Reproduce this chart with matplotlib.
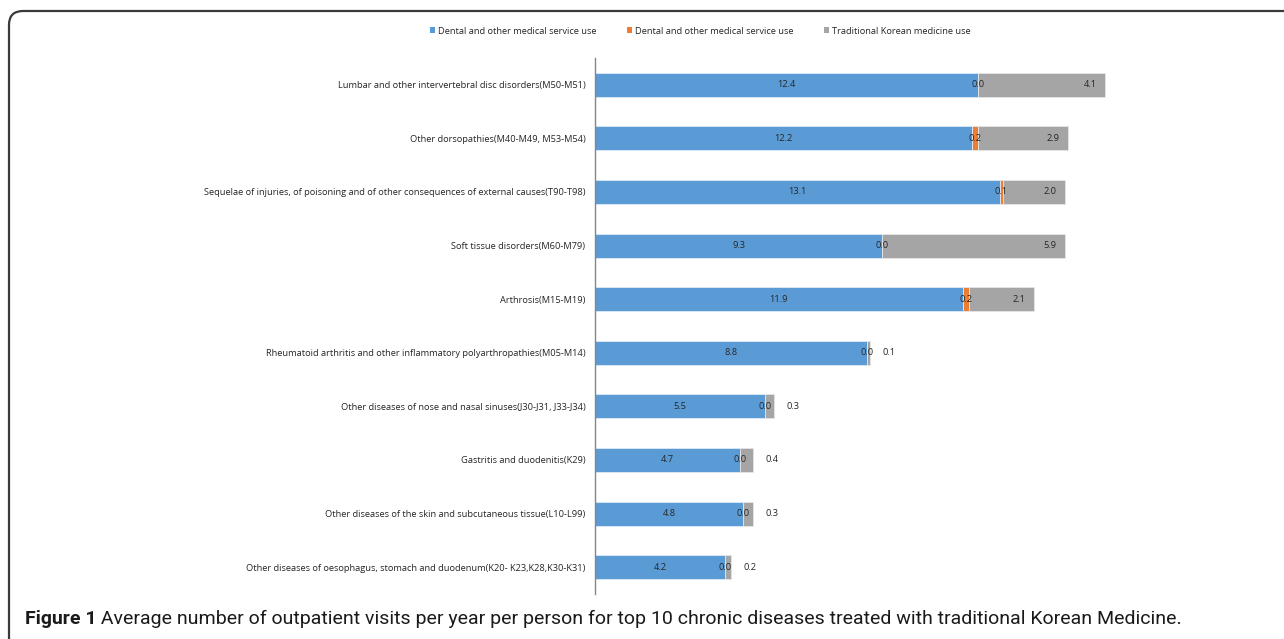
import matplotlib
matplotlib.use("Agg")
import matplotlib.pyplot as plt
from matplotlib.patches import Patch
from matplotlib.path import Path
from matplotlib.patches import PathPatch
import numpy as np

categories = [
    "Lumbar and other intervertebral disc disorders(M50-M51)",
    "Other dorsopathies(M40-M49, M53-M54)",
    "Sequelae of injuries, of poisoning and of other consequences of external causes(T90-T98)",
    "Soft tissue disorders(M60-M79)",
    "Arthrosis(M15-M19)",
    "Rheumatoid arthritis and other inflammatory polyarthropathies(M05-M14)",
    "Other diseases of nose and nasal sinuses(J30-J31, J33-J34)",
    "Gastritis and duodenitis(K29)",
    "Other diseases of the skin and subcutaneous tissue(L10-L99)",
    "Other diseases of oesophagus, stomach and duodenum(K20- K23,K28,K30-K31)",
]
dental_medical = [12.4, 12.2, 13.1, 9.3, 11.9, 8.8, 5.5, 4.7, 4.8, 4.2]
dental_medical_2 = [0.0, 0.2, 0.1, 0.0, 0.2, 0.0, 0.0, 0.0, 0.0, 0.0]
korean_medicine = [4.1, 2.9, 2.0, 5.9, 2.1, 0.1, 0.3, 0.4, 0.3, 0.2]
series_names = ["Dental and other medical service use",
                "Dental and other medical service use",
                "Traditional Korean medicine use"]
caption_bold = "Figure 1"
caption_text = " Average number of outpatient visits per year per person for top 10 chronic diseases treated with traditional Korean Medicine."

colors = ["#5B9BD5", "#ED7D31", "#A5A5A5"]
W, H = 1284, 639
fig = plt.figure(figsize=(W / 100, H / 100), dpi=100)

lab_font = ["Open Sans", "DejaVu Sans"]
lab_size = 6.7
txt_color = "#262626"

ax_left, ax_top, ax_bottom = 595, 58, 594
xmax = 21.0
px_per_unit = 30.9
ax = fig.add_axes([ax_left / W, (H - ax_bottom) / H, xmax * px_per_unit / W, (ax_bottom - ax_top) / H])

y = np.arange(len(categories))
d1 = np.array(dental_medical)
d2 = np.array(dental_medical_2)
k = np.array(korean_medicine)
h = 0.45
ax.barh(y, d1, height=h, color=colors[0], edgecolor="#dfe9f5", linewidth=0.6, label=series_names[0])
ax.barh(y, d2, left=d1, height=h, color=colors[1], edgecolor="#dfe9f5", linewidth=0.6, label=series_names[1])
ax.barh(y, k, left=d1 + d2, height=h, color=colors[2], edgecolor="#e6e6e6", linewidth=0.6, label=series_names[2])

ax.set_xlim(0, xmax)
ax.set_ylim(len(categories) - 0.5, -0.5)
for s in ["top", "right", "bottom"]:
    ax.spines[s].set_visible(False)
ax.spines["left"].set_color("#868686")
ax.spines["left"].set_linewidth(1.0)
ax.set_xticks([])
ax.set_yticks(y)
ax.set_yticklabels(categories, fontfamily=lab_font, fontsize=lab_size, color=txt_color)
ax.tick_params(axis="y", length=0, pad=7)

# data labels
for i in range(len(categories)):
    ax.text(d1[i] / 2, y[i], f"{d1[i]:.1f}", ha="center", va="center",
            fontfamily=lab_font, fontsize=lab_size, color=txt_color)
    ax.text(d1[i] + d2[i] / 2, y[i], f"{d2[i]:.1f}", ha="center", va="center",
            fontfamily=lab_font, fontsize=lab_size, color=txt_color)
    end = d1[i] + d2[i] + k[i]
    if k[i] >= 1:
        ax.annotate(f"{k[i]:.1f}", (end, y[i]), xytext=(-6, 0), textcoords="offset points",
                    ha="right", va="center", fontfamily=lab_font, fontsize=lab_size, color=txt_color)
    else:
        ax.annotate(f"{k[i]:.1f}", (end, y[i]), xytext=(9, 0), textcoords="offset points",
                    ha="left", va="center", fontfamily=lab_font, fontsize=lab_size, color=txt_color)

handles = [Patch(facecolor=c, edgecolor="none") for c in colors]
leg = fig.legend(handles, series_names, loc="center", bbox_to_anchor=(700 / W, 1 - 31 / H),
                 ncol=3, frameon=False, handlelength=0.55, handleheight=0.55, handletextpad=0.3,
                 columnspacing=3.3, prop={"family": lab_font, "size": lab_size})
for t in leg.get_texts():
    t.set_color(txt_color)

# frame: top line and left line with rounded corner
r = 14
x0, y0 = 9, 11
verts = [(x0, H + 5), (x0, y0 + r), (x0, y0), (x0 + r, y0), (W + 5, y0)]
verts = [(vx / W, 1 - vy / H) for vx, vy in verts]
codes = [Path.MOVETO, Path.LINETO, Path.CURVE3, Path.CURVE3, Path.LINETO]
fig.patches.append(PathPatch(Path(verts, codes), transform=fig.transFigure, fill=False,
                             edgecolor="#3a3a3a", linewidth=1.6))

# caption: fit to the reference's width
cap_font = ["Roboto", "DejaVu Sans"]
cap_y = 1 - 619 / H
cap_left, cap_right = 25, 1183
size = 14.0
renderer = fig.canvas.get_renderer()
for _ in range(3):
    t1 = fig.text(cap_left / W, cap_y, caption_bold, fontfamily=cap_font, fontweight="bold",
                  fontsize=size, color="#1a1a1a", va="center", ha="left")
    bb = t1.get_window_extent(renderer)
    t2 = fig.text(bb.x1 / W, cap_y, caption_text, fontfamily=cap_font, fontsize=size,
                  color="#1a1a1a", va="center", ha="left")
    bb2 = t2.get_window_extent(renderer)
    total = bb2.x1 - bb.x0
    t1.remove(); t2.remove()
    size = size * (cap_right - cap_left) / total

t1 = fig.text(cap_left / W, cap_y, caption_bold, fontfamily=cap_font, fontweight="bold",
              fontsize=size, color="#1a1a1a", va="center", ha="left")
bb = t1.get_window_extent(renderer)
fig.text(bb.x1 / W, cap_y, caption_text, fontfamily=cap_font, fontsize=size,
         color="#1a1a1a", va="center", ha="left")

fig.savefig("out.png", dpi=100)
